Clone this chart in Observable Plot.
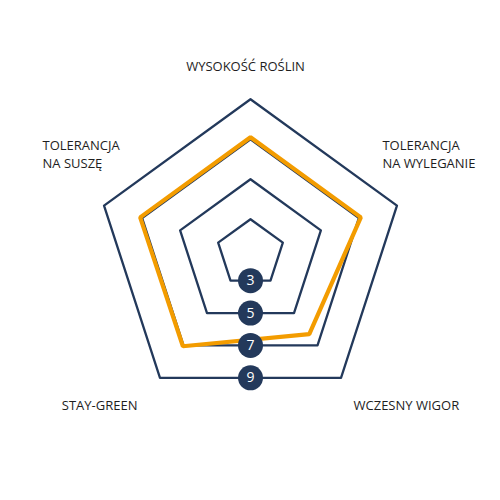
<!DOCTYPE html>
<html><head><meta charset="utf-8">
<script src="https://cdn.jsdelivr.net/npm/d3@7"></script>
<script src="https://cdn.jsdelivr.net/npm/@observablehq/plot@0.6"></script>
<style>body{margin:0;background:#fff}</style>
</head><body><div id="chart"></div>
<script>
const axes = ["WYSOKOŚĆ ROŚLIN", "TOLERANCJA\nNA WYLEGANIE", "WCZESNY WIGOR", "STAY-GREEN", "TOLERANCJA\nNA SUSZĘ"];
const values = [7.1, 7.1, 6.3, 7.05, 7.1];
const levels = [3, 5, 7, 9];
const levelLabels = ["3", "5", "7", "9"];
const origin = 1.3; // value at the centre of the radar
const maxLevel = 9;

const dark = "#23395b";
const orange = "#f39c00";
const n = axes.length;
const ang = i => (i * 2 * Math.PI) / n;
const px = (v, i) => (v - origin) * Math.sin(ang(i));
const py = (v, i) => (v - origin) * Math.cos(ang(i));

const grid = levels.flatMap(l => axes.map((a, i) => ({level: l, x: px(l, i), y: py(l, i)})));
const series = values.map((v, i) => ({x: px(v, i), y: py(v, i)}));
const markers = levels.map((l, k) => ({label: levelLabels[k], x: 0, y: -(l - origin) * Math.cos(Math.PI / n)}));

// label layout: anchor and offsets from outer vertex
const labelLayout = [
  {anchor: "middle", dx: -5, dy: -34},
  {anchor: "start", dx: -14.5, dy: -52},
  {anchor: "start", dx: 12.5, dy: 26},
  {anchor: "end", dx: -22.5, dy: 26},
  {anchor: "start", dx: -61.5, dy: -52}
];

const font = "'Open Sans', sans-serif";
const labelMarks = axes.map((a, i) => Plot.text([{t: a, x: px(maxLevel, i), y: py(maxLevel, i)}], {
  x: "x", y: "y", text: "t",
  textAnchor: labelLayout[i].anchor, dx: labelLayout[i].dx, dy: labelLayout[i].dy,
  fontSize: 13, fill: "#1e1e1e", fontFamily: font, lineHeight: 1.38
}));

const chart = Plot.plot({
  width: 500, height: 500, margin: 0,
  x: {domain: [-12.5, 12.5], axis: null},
  y: {domain: [-12.365, 12.635], axis: null},
  style: {fontFamily: font, background: "#fff"},
  marks: [
    Plot.line(grid, {x: "x", y: "y", z: "level", curve: "linear-closed", stroke: dark, strokeWidth: 2.3}),
    Plot.line(series, {x: "x", y: "y", curve: "linear-closed", stroke: orange, strokeWidth: 4.2, strokeLinejoin: "miter"}),
    Plot.dot(markers, {x: "x", y: "y", r: 12.5, fill: dark, stroke: null}),
    Plot.text(markers, {x: "x", y: "y", text: "label", fill: "white", fontSize: 14, fontFamily: font}),
    ...labelMarks
  ]
});
document.getElementById("chart").append(chart);
</script>
</body></html>
